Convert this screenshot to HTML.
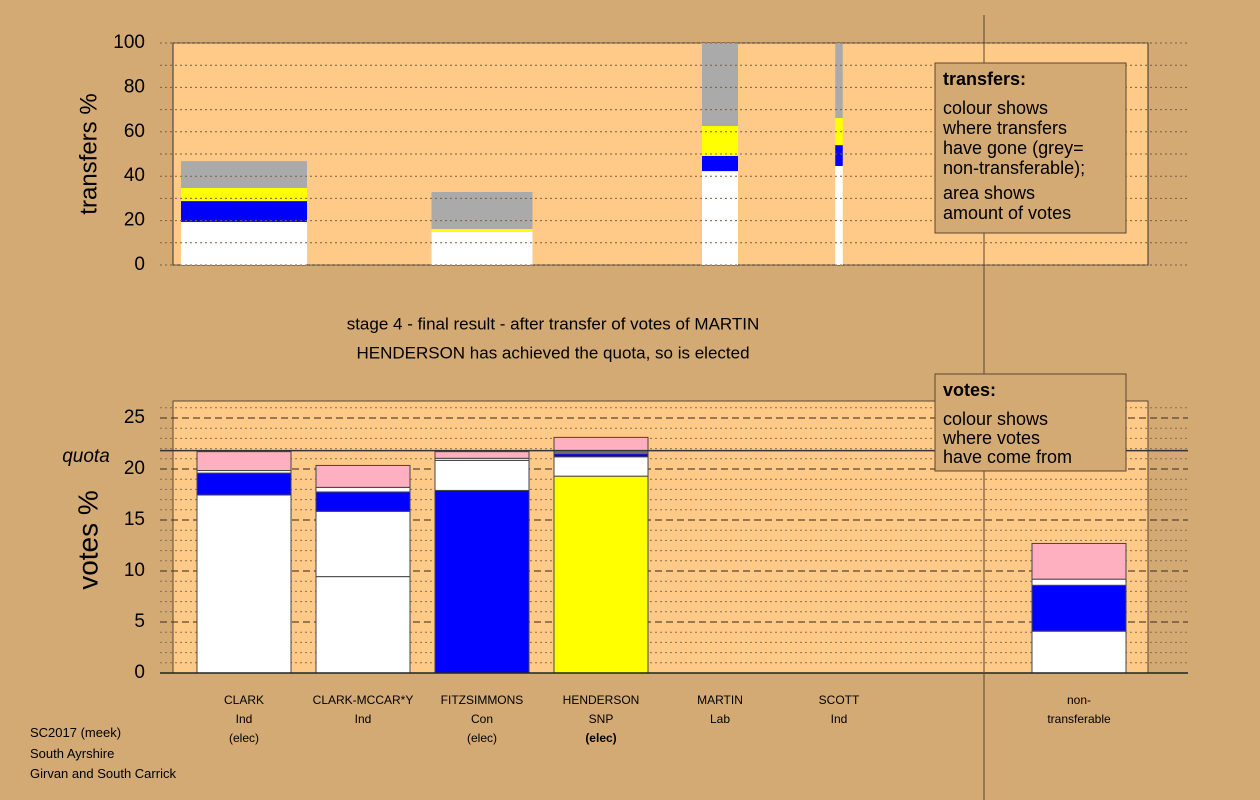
<!DOCTYPE html>
<html><head><meta charset="utf-8"><style>
body{margin:0;background:#D3A974;}
svg{display:block;font-family:"Liberation Sans",Arial,sans-serif;}
</style></head><body>
<svg id="c" width="1260" height="800" xmlns="http://www.w3.org/2000/svg">
<rect x="0" y="0" width="1260" height="800" fill="#D3A974"/>
<g id="topPanel"></g>
<g id="botPanel"></g>
<line x1="984" y1="15" x2="984" y2="800" stroke="#5a4630" stroke-width="1"/>
<text x="553" y="325" font-size="17" text-anchor="middle" dominant-baseline="middle">stage 4 - final result - after transfer of votes of MARTIN</text>
<text x="553" y="354" font-size="17" text-anchor="middle" dominant-baseline="middle">HENDERSON has achieved the quota, so is elected</text>
<text transform="translate(90,154) rotate(-90)" font-size="24" text-anchor="middle" dominant-baseline="middle">transfers %</text>
<text transform="translate(90,540) rotate(-90)" font-size="28" text-anchor="middle" dominant-baseline="middle">votes %</text>
<text x="86" y="457" font-size="19" font-style="italic" text-anchor="middle" dominant-baseline="middle">quota</text>
<g>
<rect x="935" y="63" width="191" height="170" fill="#D3A974" stroke="#5a4630"/>
<text x="943" y="80" font-size="18" font-weight="bold" dominant-baseline="middle">transfers:</text>
<text font-size="18" dominant-baseline="middle"><tspan x="943" y="109">colour shows</tspan><tspan x="943" y="129">where transfers</tspan><tspan x="943" y="149">have gone (grey=</tspan><tspan x="943" y="169">non-transferable);</tspan><tspan x="943" y="194">area shows</tspan><tspan x="943" y="214">amount of votes</tspan></text>
</g>
<g>
<rect x="935" y="374" width="191" height="97" fill="#D3A974" stroke="#5a4630"/>
<text x="943" y="391" font-size="18" font-weight="bold" dominant-baseline="middle">votes:</text>
<text font-size="18" dominant-baseline="middle"><tspan x="943" y="420">colour shows</tspan><tspan x="943" y="439">where votes</tspan><tspan x="943" y="458">have come from</tspan></text>
</g>
<text font-size="13" dominant-baseline="middle"><tspan x="30" y="734">SC2017 (meek)</tspan><tspan x="30" y="755">South Ayrshire</tspan><tspan x="30" y="775">Girvan and South Carrick</tspan></text>
</svg>
<script>
const candidates=["CLARK","CLARK-MCCAR*Y","FITZSIMMONS","HENDERSON","MARTIN","SCOTT","non-transferable"];
const parties=["Ind","Ind","Con","SNP","Lab","Ind",""];
const status=["(elec)","","(elec)","(elec)","","",""];
const topTicks=[0,20,40,60,80,100];
const botTicks=[0,5,10,15,20,25];
const quota=21.8;
// bottom stacked votes (%), per layer
const ownVotes=[17.45,9.45,17.9,19.3,0,0,4.1];
const ownColor=["#fff","#fff","#0000ff","#ffff00","#ffb0c0","#fff","#fff"];
const indVotesA=[0,6.4,2.95,1.9,0,0,0];
const conVotes=[2.15,1.9,0,0.3,0,0,4.5];
const indVotesB=[0.25,0.45,0.2,0.15,0,0,0.6];
const labVotes=[1.85,2.15,0.65,1.45,0,0,3.5];
// top transfer bars: category index, width (amount), stacked %
const trCat=[0,2,4,5];
const trAmount=[126,101,36,7.5];
const trWhite=[19.4,14.9,42.3,44.6];
const trBlue=[9.4,0,6.8,9.4];
const trYellow=[5.9,1.3,13.5,12.2];
const trGrey=[12.1,16.7,37.4,33.8];

const NS="http://www.w3.org/2000/svg";
function mk(p,t,a){const e=document.createElementNS(NS,t);for(const k in a)e.setAttribute(k,a[k]);p.appendChild(e);return e;}
const catX=i=>[244,363,482,601,720,839,1079][i];
const tY=v=>265-v*2.22;
const bY=v=>673-v*10.2;
const topG=document.getElementById('topPanel'), botG=document.getElementById('botPanel');

// top panel
let r=mk(topG,'rect',{x:173,y:43,width:975,height:222,fill:'#FFCA88',stroke:'#333'});


const trLayers=[[trWhite,'#fff'],[trBlue,'#0000ff'],[trYellow,'#ffff00'],[trGrey,'#aaaaaa']];
trCat.forEach((c,i)=>{let base=0;const w=trAmount[i];const x=catX(c)-w/2;
 trLayers.forEach(([arr,col],j)=>{const v=arr[i];if(v<=0)return;
  const e=mk(topG,'rect',{x:x,y:tY(base+v),width:w,height:v*2.22,fill:col});
  
  
  base+=v;});});
for(let v=0;v<=100;v+=10){const l=mk(topG,'line',{x1:160,x2:1188,y1:tY(v),y2:tY(v),stroke:'#7a6040','stroke-dasharray':'2,3','stroke-width':1});
 
 }
topTicks.forEach(v=>{const t=mk(topG,'text',{x:145,y:tY(v),'font-size':19,'text-anchor':'end','dominant-baseline':'middle'});t.textContent=v;
 
 });

// bottom panel
r=mk(botG,'rect',{x:173,y:401,width:975,height:272,fill:'#FFCA88',stroke:'#5a4630'});


for(let v=1;v<=26;v++){if(v%5===0)continue;const l=mk(botG,'line',{x1:160,x2:1188,y1:bY(v),y2:bY(v),stroke:'#8a7050','stroke-dasharray':'2,3','stroke-width':1});
 
 }
for(let v=5;v<=25;v+=5){const l=mk(botG,'line',{x1:160,x2:1188,y1:bY(v),y2:bY(v),stroke:'#5a4630','stroke-dasharray':'7,4','stroke-width':1.2});
 
 }
const bLayers=[[ownVotes,null],[indVotesA,'#fff'],[conVotes,'#0000ff'],[indVotesB,'#fff'],[labVotes,'#ffb0c0']];
candidates.forEach((c,i)=>{let base=0;const x=catX(i)-47;
 bLayers.forEach(([arr,col],j)=>{const v=arr[i];if(v<=0)return;
  const e=mk(botG,'rect',{x:x,y:bY(base+v),width:94,height:v*10.2,fill:col||ownColor[i],stroke:'#444','stroke-width':1});
  
  
  base+=v;});
 const lab=[c,parties[i],status[i]];
 lab.forEach((s,k)=>{if(!s)return;const t=mk(botG,'text',{x:catX(i),y:[701,720,739][k],'font-size':12,'text-anchor':'middle','dominant-baseline':'middle'});
  if(i===3&&k===2)t.setAttribute('font-weight','bold');
  t.textContent=(i===6&&k===0)?'non-':s;
  
  });
 if(i===6){const t=mk(botG,'text',{x:catX(i),y:720,'font-size':12,'text-anchor':'middle','dominant-baseline':'middle'});t.textContent='transferable';
  
  }
});
let q=mk(botG,'line',{x1:160,x2:1188,y1:bY(quota),y2:bY(quota),stroke:'#333','stroke-width':1.5});


let ax=mk(botG,'line',{x1:160,x2:1188,y1:673,y2:673,stroke:'#222','stroke-width':1.5});


botTicks.forEach(v=>{const t=mk(botG,'text',{x:145,y:bY(v),'font-size':19,'text-anchor':'end','dominant-baseline':'middle'});t.textContent=v;
 
 });
</script>
</body></html>
